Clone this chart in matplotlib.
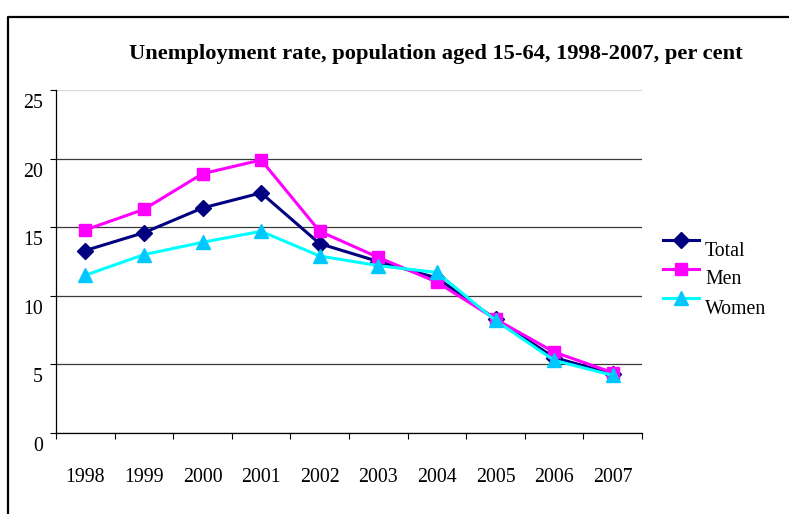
import numpy as np
import matplotlib.pyplot as plt
from matplotlib.lines import Line2D
from matplotlib.transforms import ScaledTranslation

#------------------------------------------------------------
years = ['1998', '1999', '2000', '2001', '2002', '2003', '2004', '2005', '2006', '2007']
total = [13.3, 14.6, 16.4, 17.5, 13.8, 12.5, 11.3, 8.3, 5.5, 4.3]
men = [14.8, 16.3, 18.9, 19.9, 14.7, 12.8, 11.0, 8.3, 5.9, 4.4]
women = [11.5, 13.0, 13.9, 14.7, 12.9, 12.2, 11.7, 8.2, 5.3, 4.2]
yticks = [0, 5, 10, 15, 20, 25]

series_names = ['Total', 'Men', 'Women']

plt.rcParams['font.family'] = ['Liberation Serif', 'DejaVu Serif']

W, H = 789, 514
fig = plt.figure(figsize=(W/100, H/100), dpi=100)

def fx(px):
    return px/W

def fy(py):
    return 1 - py/H

ax = fig.add_axes([fx(56), fy(433), fx(642) - fx(56), fy(90) - fy(433)])

x = np.arange(len(years))

#styles for each series
styles = [
    dict(color='#000080', marker='D', markersize=8, mfc='#000080', mec='#000080'),
    dict(color='#FF00FF', marker='s', markersize=8.5, mfc='#FF00FF', mec='#FF00FF'),
    dict(color='#00FFFF', marker='^', markersize=9.5, mfc='#00C8FF', mec='#00C8FF'),
]

for vals, st in zip([total, men, women], styles):
    ax.plot(x, vals, lw=2.2, **st, zorder=3)

ax.set_xlim(-0.5, len(years) - 0.5)
ax.set_ylim(0, 25)

ax.set_yticks(yticks)
ax.set_yticklabels([str(t) for t in yticks], fontsize=14.3)
ax.tick_params(axis='y', direction='out', length=4.5, width=0.8, pad=5)

# categories centered, tick marks between categories
ax.set_xticks(x)
ax.set_xticklabels(years, fontsize=14.3)
ax.set_xticks(np.arange(len(years) + 1) - 0.5, minor=True)
ax.tick_params(axis='x', which='major', length=0, pad=25.5)
ax.tick_params(axis='x', which='minor', direction='out', length=4.5, width=0.8)

# shift the y labels down a bit (Excel look)
off = ScaledTranslation(0, -11/100, fig.dpi_scale_trans)
for lab in ax.get_yticklabels():
    lab.set_transform(lab.get_transform() + off)

ax.yaxis.grid(True, color='#3a3a3a', lw=0.9)
ax.get_ygridlines()[-1].set_color('#d8d8d8')
ax.set_axisbelow(True)

for s in ['top', 'right']:
    ax.spines[s].set_visible(False)
for s in ['left', 'bottom']:
    ax.spines[s].set_linewidth(0.9)
    ax.spines[s].set_color('black')

fig.text(fx(436), fy(54), 'Unemployment rate, population aged 15-64, 1998-2007, per cent',
         ha='center', va='center', fontsize=16.2, fontweight='bold')

# legend drawn by hand so the text sits under the line like the original
leg_y = [240, 269, 298]
for name, st, ly in zip(series_names, styles, leg_y):
    fig.add_artist(Line2D([fx(663), fx(699)], [fy(ly), fy(ly)], lw=2.2,
                          color=st['color'], transform=fig.transFigure))
    fig.add_artist(Line2D([fx(681)], [fy(ly)], transform=fig.transFigure,
                          marker=st['marker'], markersize=st['markersize'],
                          mfc=st['mfc'], mec=st['mec'], lw=0))
    fig.text(fx(705), fy(ly + 11), name, ha='left', va='center', fontsize=14.3)

# chart border (only top + left visible in the crop)
fig.add_artist(Line2D([fx(7.5), fx(7.5), 1], [0, fy(16.5), fy(16.5)],
                      color='black', lw=1.6, transform=fig.transFigure))

plt.savefig('out.png', dpi=100)
